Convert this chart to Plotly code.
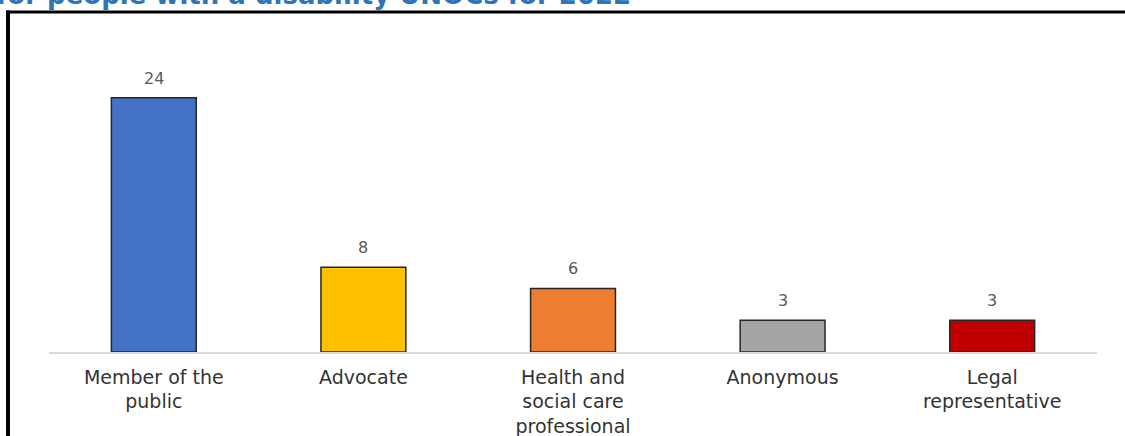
import plotly.graph_objects as go

categories = ["Member of the<br>public", "Advocate", "Health and<br>social care<br>professional",
              "Anonymous", "Legal<br>representative"]
values = [24, 8, 6, 3, 3]
title_text = "for people with a disability UNOCs for 2022"

bar_colors = ["#4472C4", "#FFC000", "#ED7D31", "#A5A5A5", "#C00000"]

W, H = 1125, 436
ml, mr, mt, mb = 49, 28, 66, 84
ymax = 27

fig = go.Figure()
fig.add_trace(go.Bar(
    x=categories, y=values,
    marker=dict(color=bar_colors, line=dict(color="#262626", width=1.5)),
    width=0.405,
    hoverinfo="skip",
))

for c, v in zip(categories, values):
    fig.add_annotation(x=c, y=v, text=str(v), showarrow=False, yanchor="bottom",
                       yshift=8, font=dict(family="DejaVu Sans", size=16, color="#595959"))

pw = W - ml - mr
ph = H - mt - mb

def px_to_paper_x(px):
    return (px - ml) / pw

def px_to_paper_y(py):
    return 1 - (py - mt) / ph

# frame (left and top border of the original picture box)
fig.add_shape(type="line", xref="paper", yref="paper",
              x0=px_to_paper_x(8), x1=px_to_paper_x(8),
              y0=px_to_paper_y(10.5), y1=px_to_paper_y(450),
              line=dict(color="black", width=4))
fig.add_shape(type="line", xref="paper", yref="paper",
              x0=px_to_paper_x(6), x1=px_to_paper_x(1140),
              y0=px_to_paper_y(12), y1=px_to_paper_y(12),
              line=dict(color="black", width=3))

fig.add_annotation(xref="paper", yref="paper", x=px_to_paper_x(-5), y=px_to_paper_y(11),
                   xanchor="left", yanchor="bottom", showarrow=False, borderpad=0,
                   text="<b>" + title_text + "</b>",
                   font=dict(family="DejaVu Sans", size=26, color="#2E75B6"))

fig.update_layout(
    width=W, height=H,
    margin=dict(l=ml, r=mr, t=mt, b=mb, pad=0, autoexpand=False),
    paper_bgcolor="white", plot_bgcolor="white",
    showlegend=False,
    xaxis=dict(showline=True, linecolor="#D9D9D9", linewidth=1.5, ticks="",
               ticklabelstandoff=7, automargin=False,
               tickfont=dict(family="DejaVu Sans", size=19, color="#333333"),
               showgrid=False, zeroline=False),
    yaxis=dict(range=[0, ymax], visible=False, showgrid=False, zeroline=False,
               automargin=False),
)

fig.write_html("out.html", config={"displayModeBar": False},
               post_script="document.body.style.margin='0';document.body.style.overflow='hidden';")
